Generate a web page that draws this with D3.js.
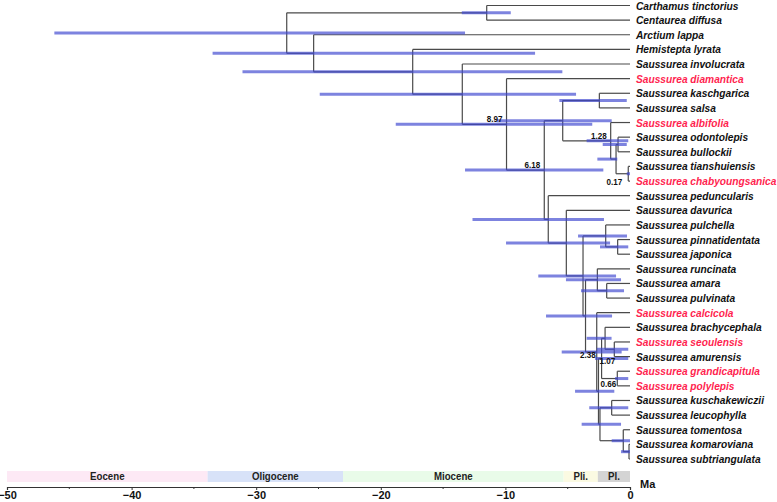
<!DOCTYPE html>
<html><head><meta charset="utf-8">
<script src="https://cdn.jsdelivr.net/npm/d3@7"></script>
<style>
html,body{margin:0;padding:0;background:#fff;}
svg text{font-family:"Liberation Sans",Arial,sans-serif;font-weight:bold;}
</style></head>
<body><svg id="chart" width="777" height="502"></svg>
<script>
// ---- Data ----
const tipNames = ["Carthamus tinctorius","Centaurea diffusa","Arctium lappa","Hemistepta lyrata",
 "Saussurea involucrata","Saussurea diamantica","Saussurea kaschgarica","Saussurea salsa",
 "Saussurea albifolia","Saussurea odontolepis","Saussurea bullockii","Saussurea tianshuiensis",
 "Saussurea chabyoungsanica","Saussurea peduncularis","Saussurea davurica","Saussurea pulchella",
 "Saussurea pinnatidentata","Saussurea japonica","Saussurea runcinata","Saussurea amara",
 "Saussurea pulvinata","Saussurea calcicola","Saussurea brachycephala","Saussurea seoulensis",
 "Saussurea amurensis","Saussurea grandicapitula","Saussurea polylepis","Saussurea kuschakewiczii",
 "Saussurea leucophylla","Saussurea tomentosa","Saussurea komaroviana","Saussurea subtriangulata"];
const highlightedTips = ["Saussurea diamantica","Saussurea albifolia","Saussurea chabyoungsanica",
 "Saussurea calcicola","Saussurea seoulensis","Saussurea grandicapitula","Saussurea polylepis"];

const nodeIds = ["root","nCC","n2","n3","nSau","n897","n618","nKA","nKS","nA","nB","nC","nD",
 "nE","nF","nG","nP","nPJ","nH","nR","nAP","nI","nJ","nK","nBr","nSA","nGP","nL","nKL","nT","nKM"];
const nodeChildren = [
 ["nCC","n2"],["Carthamus tinctorius","Centaurea diffusa"],["Arctium lappa","n3"],
 ["Hemistepta lyrata","nSau"],["Saussurea involucrata","n897"],["Saussurea diamantica","n618"],
 ["nKA","nE"],["nKS","nA"],["Saussurea kaschgarica","Saussurea salsa"],["Saussurea albifolia","nB"],
 ["nC","nD"],["Saussurea odontolepis","Saussurea bullockii"],["Saussurea tianshuiensis","Saussurea chabyoungsanica"],
 ["Saussurea peduncularis","nF"],["Saussurea davurica","nG"],["nP","nH"],["Saussurea pulchella","nPJ"],
 ["Saussurea pinnatidentata","Saussurea japonica"],["nR","nI"],["Saussurea runcinata","nAP"],
 ["Saussurea amara","Saussurea pulvinata"],["Saussurea calcicola","nJ"],["nK","nL"],["nBr","nGP"],
 ["Saussurea brachycephala","nSA"],["Saussurea seoulensis","Saussurea amurensis"],
 ["Saussurea grandicapitula","Saussurea polylepis"],["nKL","nT"],["Saussurea kuschakewiczii","Saussurea leucophylla"],
 ["Saussurea tomentosa","nKM"],["Saussurea komaroviana","Saussurea subtriangulata"]];
// node ages (Ma, negative = before present)
const nodeAges = [-27.55,-11.5,-25.39,-17.44,-13.46,-9.91,-6.88,-5.4,-2.46,-1.55,-1.12,-0.96,-0.14,
 -6.56,-5.11,-3.77,-1.95,-0.99,-3.57,-2.62,-1.87,-2.67,-2.53,-2.28,-2.0,-1.26,-1.02,-2.41,-1.47,-0.54,-0.08];
// 95% HPD interval
const hpdLow  = [-46.2,-13.5,-33.5,-31.1,-24.9,-18.8,-13.24,-10.7,-5.67,-3.48,-2.62,-2.19,-0.26,
 -12.64,-9.95,-7.36,-4.17,-2.41,-6.74,-5.14,-3.93,-5.48,-4.41,-2.8,-3.48,-2.67,-1.2,-3.88,-3.27,-1.47,-0.72];
const hpdHigh = [-13.24,-9.57,-7.62,-5.43,-4.33,-3.03,-2.14,-1.47,-0.26,-0.14,-1.02,-0.26,0,
 -2.09,-1.6,-1.12,-0.24,-0.14,-1.44,-0.72,-0.48,-0.67,-1.26,-0.14,-1.48,-0.14,-0.14,-0.72,-0.14,0,0];
const labelNodes = ["n897","n618","nA","nD","nI","nSA","nGP"];
const labelTexts = ["8.97","6.18","1.28","0.17","2.38","1.07","0.66"];

const epochNames = ["Eocene","Oligocene","Miocene","Pli.","Pl."];
const epochStart = [-50,-33.9,-23.03,-5.33,-2.58];
const epochEnd   = [-33.9,-23.03,-5.33,-2.58,0];
const epochColors = ["#fde9f5","#d8e2f8","#e9fbe9","#fbfae2","#d4d4d4"];
const majorTicks = [-50,-40,-30,-20,-10,0];
const minorTicks = [-45,-35,-25,-15,-5];

// ---- Build tree ----
const childMap = new Map(nodeIds.map((id,i)=>[id,nodeChildren[i]]));
function build(id){
  const kids = childMap.get(id);
  return kids ? {name:id, children:kids.map(build)} : {name:id};
}
const root = d3.hierarchy(build("root"));

const x = d3.scaleLinear().domain([-50,0]).range([7,630]);
const y = d3.scaleLinear().domain([0,tipNames.length-1]).range([5.5,459]);

root.eachAfter(d=>{
  if(!d.children){ d.py = y(tipNames.indexOf(d.data.name)); d.px = x(0); }
  else {
    const i = nodeIds.indexOf(d.data.name);
    d.py = (d.children[0].py + d.children[d.children.length-1].py)/2;
    d.px = x(nodeAges[i]);
    d.lo = hpdLow[i]; d.hi = hpdHigh[i];
  }
});

const svg = d3.select("#chart");
const gTree = svg.append("g");
const lineCol = "#4a4a4a";

gTree.selectAll("line.h").data(root.descendants().filter(d=>d.parent)).join("line")
  .attr("x1",d=>d.parent.px).attr("x2",d=>d.px).attr("y1",d=>d.py).attr("y2",d=>d.py)
  .attr("stroke",lineCol).attr("stroke-width",1.2);
gTree.selectAll("line.v").data(root.descendants().filter(d=>d.children)).join("line")
  .attr("x1",d=>d.px).attr("x2",d=>d.px)
  .attr("y1",d=>d.children[0].py).attr("y2",d=>d.children[d.children.length-1].py)
  .attr("stroke",lineCol).attr("stroke-width",1.2);

gTree.selectAll("line.hpd").data(root.descendants().filter(d=>d.children)).join("line")
  .attr("x1",d=>x(d.lo)).attr("x2",d=>x(d.hi)).attr("y1",d=>d.py).attr("y2",d=>d.py)
  .attr("stroke","#3f48d0").attr("stroke-opacity",0.68).attr("stroke-width",3);

const labOff = {n897:[-4,-2.5],n618:[-4,-2.5],nA:[-4,-2],nD:[-6,11.5],nI:[-1,6],nSA:[1,14.5],nGP:[-1,8]};
labelNodes.forEach((id,k)=>{
  const nd = root.descendants().find(d=>d.data.name===id);
  const o = labOff[id];
  svg.append("text").attr("transform",`translate(${nd.px+o[0]},${nd.py+o[1]}) scale(0.85,1)`)
    .attr("text-anchor","end").attr("font-size",9.5).attr("fill","#111").text(labelTexts[k]);
});

svg.selectAll("text.tip").data(root.leaves()).join("text")
  .attr("transform",d=>`translate(${d.px+6},${d.py+4}) scale(0.88,1)`)
  .attr("font-size",11.6).attr("font-style","italic")
  .attr("fill",d=>highlightedTips.includes(d.data.name)?"#ff1f4f":"#111")
  .text(d=>d.data.name);

const bandY = 471, bandH = 11;
svg.selectAll("rect.ep").data(epochNames).join("rect")
  .attr("x",(d,i)=>x(epochStart[i])).attr("width",(d,i)=>x(epochEnd[i])-x(epochStart[i]))
  .attr("y",bandY).attr("height",bandH).attr("fill",(d,i)=>epochColors[i]);
svg.selectAll("text.ep").data(epochNames).join("text")
  .attr("transform",(d,i)=>`translate(${(x(epochStart[i])+x(epochEnd[i]))/2},${bandY+bandH/2+3.8}) scale(0.88,1)`)
  .attr("text-anchor","middle").attr("font-size",11).attr("fill","#222").text(d=>d);

const axisY = 487;
const gAx = svg.append("g").attr("transform",`translate(0,${axisY})`)
  .call(d3.axisBottom(x).tickValues(majorTicks).tickSize(3).tickFormat(d3.format("d")));
gAx.select(".domain").attr("stroke","#333").attr("stroke-width",1.2);
gAx.selectAll(".tick line").attr("stroke","#333");
gAx.selectAll(".tick text").attr("font-size",11).attr("font-family","Liberation Sans, Arial").attr("font-weight","bold").attr("fill","#111").attr("dy","0.55em");
svg.append("g").selectAll("line").data(minorTicks).join("line")
  .attr("x1",d=>x(d)).attr("x2",d=>x(d)).attr("y1",axisY).attr("y2",axisY+2).attr("stroke","#333");
svg.append("text").attr("x",x(0)+10).attr("y",axisY+1).attr("font-size",11).attr("fill","#111").text("Ma");
</script></body></html>
